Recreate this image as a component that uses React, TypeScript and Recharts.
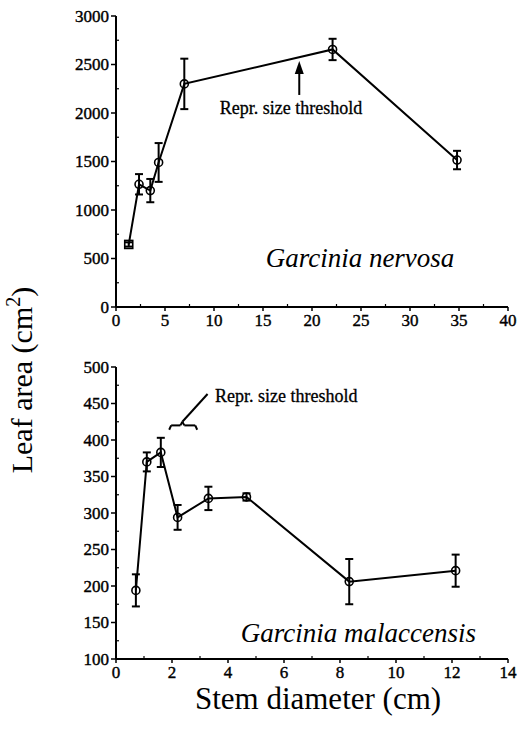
import {
  ErrorBar,
  Label,
  Line,
  LineChart,
  ReferenceDot,
  ReferenceLine,
  XAxis,
  YAxis,
} from 'recharts'

// Garcinia nervosa (top panel)
const nervosaDiameter = [1.3, 2.35, 3.5, 4.35, 6.97, 22.1, 34.8]
const nervosaArea = [645, 1265, 1200, 1490, 2300, 2655, 1515]
const nervosaErr = [22, 105, 120, 200, 260, 110, 95]
const nervosaXTicks = [0, 2.5, 5, 7.5, 10, 12.5, 15, 17.5, 20, 22.5, 25, 27.5, 30, 32.5, 35, 37.5, 40]
const nervosaYTicks = [0, 250, 500, 750, 1000, 1250, 1500, 1750, 2000, 2250, 2500, 2750, 3000]

// Garcinia malaccensis (bottom panel)
const malaccensisDiameter = [0.71, 1.1, 1.6, 2.2, 3.3, 4.66, 8.33, 12.13]
const malaccensisArea = [194, 370, 383, 294, 320, 322, 206, 221]
const malaccensisErr = [22, 13, 20, 17, 16, 5, 31, 22]
const malaccensisXTicks = [0, 1, 2, 3, 4, 5, 6, 7, 8, 9, 10, 11, 12, 13, 14]
const malaccensisYTicks = [100, 125, 150, 175, 200, 225, 250, 275, 300, 325, 350, 375, 400, 425, 450, 475, 500]

const nervosaData = nervosaDiameter.map((d, i) => ({ diameter: d, area: nervosaArea[i], err: nervosaErr[i] }))
const malaccensisData = malaccensisDiameter.map((d, i) => ({
  diameter: d,
  area: malaccensisArea[i],
  err: malaccensisErr[i],
}))

const FONT = '"Liberation Serif", "Times New Roman", serif'
const TICK_SIZE = 5
const TICK_MARGIN = 2

const XTick = (props: any) => {
  const { x, y, payload, major } = props
  const axisY = y - TICK_SIZE - TICK_MARGIN
  const isMajor = payload.value % major === 0
  if (!isMajor) {
    return <line x1={x} x2={x} y1={axisY} y2={axisY - 3} stroke="#000" strokeWidth={1.2} />
  }
  return (
    <g>
      <line x1={x} x2={x} y1={axisY} y2={axisY + 4} stroke="#000" strokeWidth={1.5} />
      <text
        x={x}
        y={y}
        dy="0.72em"
        textAnchor="middle"
        fontSize={17}
        fontFamily={FONT}
        fill="#000"
        stroke="#000"
        strokeWidth={0.4}
      >
        {payload.value}
      </text>
    </g>
  )
}

const YTick = (props: any) => {
  const { x, y, payload, major } = props
  const axisX = x + TICK_SIZE + TICK_MARGIN
  const isMajor = payload.value % major === 0
  if (!isMajor) {
    return <line x1={axisX} x2={axisX + 3} y1={y} y2={y} stroke="#000" strokeWidth={1.2} />
  }
  return (
    <g>
      <line x1={axisX - TICK_SIZE} x2={axisX} y1={y} y2={y} stroke="#000" strokeWidth={1.5} />
      <text
        x={x}
        y={y}
        dy="0.35em"
        textAnchor="end"
        fontSize={17}
        fontFamily={FONT}
        fill="#000"
        stroke="#000"
        strokeWidth={0.4}
      >
        {payload.value}
      </text>
    </g>
  )
}

const makeDot = (squareFirst: boolean) => (props: any) => {
  const { cx, cy, index } = props
  if (squareFirst && index === 0) {
    return (
      <rect key={`d-${index}`} x={cx - 4} y={cy - 4} width={8} height={8} fill="none" stroke="#000" strokeWidth={1.6} />
    )
  }
  return <circle key={`d-${index}`} cx={cx} cy={cy} r={4} fill="none" stroke="#000" strokeWidth={1.6} />
}

const Arrowhead = (props: any) => {
  const { cx, cy } = props
  return <path d={`M${cx},${cy} L${cx - 4.5},${cy + 13} L${cx + 4.5},${cy + 13} Z`} fill="#000" />
}

const axisLine = { stroke: '#000', strokeWidth: 2 }
const speciesLabel = { fontSize: 27, fontStyle: 'italic', fill: '#000', fontFamily: FONT }
const noteLabel = { fontSize: 18, fill: '#000', fontFamily: FONT, stroke: '#000', strokeWidth: 0.3 }
const seg = { stroke: '#000', strokeWidth: 2 }

export default function App() {
  return (
    <div
      style={{
        position: 'absolute',
        left: 0,
        top: 0,
        width: 520,
        height: 729,
        background: '#fff',
        fontFamily: FONT,
        overflow: 'hidden',
      }}
    >
      <div style={{ position: 'absolute', left: 0, top: 0 }}>
        <LineChart width={520} height={340} data={nervosaData} margin={{ top: 16, right: 12, bottom: 8, left: 0 }}>
          <XAxis
            type="number"
            dataKey="diameter"
            domain={[0, 40]}
            ticks={nervosaXTicks}
            interval={0}
            height={25}
            axisLine={axisLine}
            tickLine={false}
            tickSize={TICK_SIZE}
            tickMargin={TICK_MARGIN}
            tick={(p: any) => <XTick {...p} major={5} />}
          />
          <YAxis
            type="number"
            domain={[0, 3000]}
            ticks={nervosaYTicks}
            interval={0}
            width={116}
            axisLine={axisLine}
            tickLine={false}
            tickSize={TICK_SIZE}
            tickMargin={TICK_MARGIN}
            tick={(p: any) => <YTick {...p} major={500} />}
          />
          <ReferenceLine segment={[{ x: 18.7, y: 2186 }, { x: 18.7, y: 2440 }]} {...seg} />
          <ReferenceDot x={18.7} y={2535} r={1} shape={Arrowhead} />
          <ReferenceDot x={17.86} y={2051} r={1} fill="none" stroke="none">
            <Label value="Repr. size threshold" position="center" {...noteLabel} />
          </ReferenceDot>
          <ReferenceDot x={24.9} y={515} r={1} fill="none" stroke="none">
            <Label value="Garcinia nervosa" position="center" {...speciesLabel} />
          </ReferenceDot>
          <Line
            type="linear"
            dataKey="area"
            stroke="#000"
            strokeWidth={2}
            dot={makeDot(true)}
            activeDot={false}
            isAnimationActive={false}
          >
            <ErrorBar dataKey="err" direction="y" width={4} stroke="#000" strokeWidth={2} />
          </Line>
        </LineChart>
      </div>

      <div style={{ position: 'absolute', left: 0, top: 340 }}>
        <LineChart width={520} height={389} data={malaccensisData} margin={{ top: 27, right: 12, bottom: 45, left: 0 }}>
          <XAxis
            type="number"
            dataKey="diameter"
            domain={[0, 14]}
            ticks={malaccensisXTicks}
            interval={0}
            height={25}
            axisLine={axisLine}
            tickLine={false}
            tickSize={TICK_SIZE}
            tickMargin={TICK_MARGIN}
            tick={(p: any) => <XTick {...p} major={2} />}
          />
          <YAxis
            type="number"
            domain={[100, 500]}
            ticks={malaccensisYTicks}
            interval={0}
            width={116}
            axisLine={axisLine}
            tickLine={false}
            tickSize={TICK_SIZE}
            tickMargin={TICK_MARGIN}
            tick={(p: any) => <YTick {...p} major={50} />}
          />
          {/* brace over the threshold range */}
          <ReferenceLine segment={[{ x: 1.9, y: 414 }, { x: 1.97, y: 420 }]} {...seg} />
          <ReferenceLine segment={[{ x: 1.97, y: 420 }, { x: 2.3, y: 420 }]} {...seg} />
          <ReferenceLine segment={[{ x: 2.3, y: 420 }, { x: 2.37, y: 425 }]} {...seg} />
          <ReferenceLine segment={[{ x: 2.37, y: 425 }, { x: 2.44, y: 420 }]} {...seg} />
          <ReferenceLine segment={[{ x: 2.44, y: 420 }, { x: 2.83, y: 420 }]} {...seg} />
          <ReferenceLine segment={[{ x: 2.83, y: 420 }, { x: 2.9, y: 414 }]} {...seg} />
          <ReferenceLine segment={[{ x: 2.37, y: 425 }, { x: 3.27, y: 463 }]} {...seg} />
          <ReferenceDot x={3.5} y={461} r={1} fill="none" stroke="none">
            <Label value="Repr. size threshold" position="right" offset={0} {...noteLabel} />
          </ReferenceDot>
          <ReferenceDot x={8.66} y={137} r={1} fill="none" stroke="none">
            <Label value="Garcinia malaccensis" position="center" {...speciesLabel} />
          </ReferenceDot>
          <Line
            type="linear"
            dataKey="area"
            stroke="#000"
            strokeWidth={2}
            dot={makeDot(false)}
            activeDot={false}
            isAnimationActive={false}
          >
            <ErrorBar dataKey="err" direction="y" width={4} stroke="#000" strokeWidth={2} />
          </Line>
        </LineChart>
      </div>

      <div
        style={{
          position: 'absolute',
          left: 22,
          top: 380,
          transform: 'translate(-50%, -50%) rotate(-90deg)',
          whiteSpace: 'nowrap',
          fontSize: 30,
          lineHeight: 1,
          color: '#000',
        }}
      >
        Leaf area (cm<sup style={{ fontSize: 20, verticalAlign: 'top', position: 'relative', top: -4 }}>2</sup>)
      </div>
      <div
        style={{
          position: 'absolute',
          left: 318,
          top: 698,
          transform: 'translate(-50%, -50%)',
          whiteSpace: 'nowrap',
          fontSize: 31,
          lineHeight: 1,
          color: '#000',
        }}
      >
        Stem diameter (cm)
      </div>
    </div>
  )
}
